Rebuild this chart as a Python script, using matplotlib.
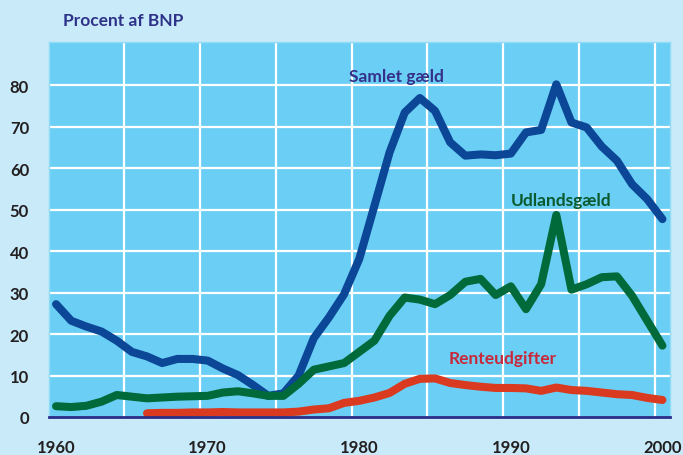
import matplotlib
matplotlib.use("Agg")
import matplotlib.pyplot as plt
import numpy as np

years = list(range(1960, 2001))
samlet = [27.2, 23.2, 21.8, 20.6, 18.4, 15.7, 14.6, 13.0, 14.0, 14.0,
          13.6, 11.7, 10.1, 7.7, 5.1, 5.7, 10.0, 19.0, 24.0, 29.6,
          38.1, 50.9, 63.8, 73.4, 76.9, 73.8, 66.2, 63.0, 63.3, 63.1,
          63.5, 68.6, 69.2, 80.2, 71.0, 69.8, 65.2, 61.8, 56.1, 52.5, 47.7]
udlands = [2.6, 2.4, 2.7, 3.7, 5.3, 4.9, 4.5, 4.7, 4.9, 5.0,
           5.1, 5.9, 6.2, 5.7, 5.1, 5.1, 8.0, 11.4, 12.2, 13.0,
           15.7, 18.4, 24.4, 28.8, 28.3, 27.2, 29.4, 32.6, 33.3, 29.4,
           31.5, 26.0, 32.0, 48.7, 30.7, 32.0, 33.7, 33.9, 29.2, 23.2, 17.2]
rente_years = list(range(1966, 2001))
rente = [0.9, 1.0, 1.0, 1.1, 1.1, 1.2, 1.1, 1.1, 1.1, 1.1,
         1.3, 1.8, 2.1, 3.4, 3.9, 4.7, 5.8, 8.0, 9.2, 9.3,
         8.2, 7.7, 7.3, 7.0, 7.0, 6.9, 6.3, 7.1, 6.5, 6.3,
         5.9, 5.5, 5.3, 4.6, 4.1]
xtick_years = [1960, 1970, 1980, 1990, 2000]
ytick_vals = [0, 10, 20, 30, 40, 50, 60, 70, 80]
grid_years = [1965, 1970, 1975, 1980, 1985, 1990, 1995, 2000]

FONT = ["Lato", "DejaVu Sans"]
plt.rcParams["font.family"] = FONT

fig = plt.figure(figsize=(6.83, 4.56), dpi=100)
fig.patch.set_facecolor("#c9eaf9")
ax = fig.add_axes([48.5 / 683, 38 / 456, 621.5 / 683, 375 / 456])
ax.set_facecolor("#6bcff5")

ax.set_xlim(1960, 2001)
ax.set_ylim(0, 90.4)

for g in grid_years:
    ax.axvline(g, color="white", lw=1.6, zorder=1)
for v in ytick_vals[1:]:
    ax.axhline(v, color="white", lw=1.6, zorder=1)

xs = np.array(years) + 0.5
xr = np.array(rente_years) + 0.5
lw = 5.8
ax.plot(xs, samlet, color="#0b4697", lw=lw, solid_capstyle="round", solid_joinstyle="round", zorder=3)
ax.plot(xs, udlands, color="#006a3b", lw=lw, solid_capstyle="round", solid_joinstyle="round", zorder=3)
ax.plot(xr, rente, color="#da3a1f", lw=lw, solid_capstyle="round", solid_joinstyle="round", zorder=3)

ax.set_xticks(np.array(xtick_years) + 0.5)
ax.set_xticklabels([str(y) for y in xtick_years])
ax.set_yticks(ytick_vals)
ax.set_yticklabels([str(v) for v in ytick_vals])
ax.tick_params(length=0, labelsize=12, colors="#231f20")
for lab in ax.get_xticklabels() + ax.get_yticklabels():
    lab.set_fontweight("bold")
ax.tick_params(axis="x", pad=16)
ax.tick_params(axis="y", pad=14)

for s in ["top", "right", "left"]:
    ax.spines[s].set_color("#8fdcf7")
    ax.spines[s].set_linewidth(1.0)
ax.spines["bottom"].set_color("#2b2d86")
ax.spines["bottom"].set_linewidth(2.0)
ax.spines["bottom"].set_zorder(4)

ax.text(1979.8, 82.3, "Samlet gæld", color="#35308a", fontsize=12.5, fontweight="bold",
        ha="left", va="center")
ax.text(1990.5, 52.2, "Udlandsgæld", color="#0a5a2e", fontsize=12.5, fontweight="bold",
        ha="left", va="center")
ax.text(1986.4, 14.2, "Renteudgifter", color="#c9283b", fontsize=12.5, fontweight="bold",
        ha="left", va="center")
fig.text(63 / 683, 1 - 21 / 456, "Procent af BNP", color="#2e3389", fontsize=12.5,
         fontweight="bold", ha="left", va="center")

fig.savefig("out.png", dpi=100, facecolor=fig.get_facecolor())
